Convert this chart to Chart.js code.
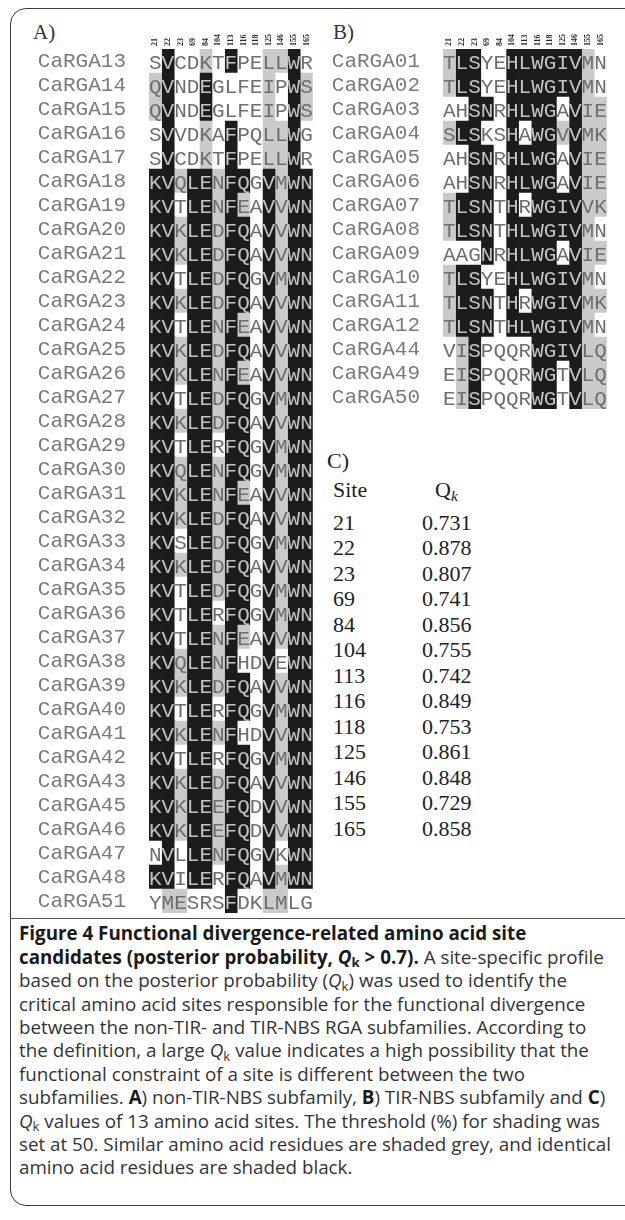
<!DOCTYPE html>
<html>
<head>
<meta charset="utf-8">
<script src="https://cdn.jsdelivr.net/npm/chart.js@4.4.1/dist/chart.umd.min.js"></script>
<style>
  html, body { margin:0; padding:0; background:#fff; }
  body { width:625px; height:1220px; position:relative; overflow:hidden; }
  .abs { position:absolute; white-space:nowrap; }
  .frame { position:absolute; left:10px; top:8px; width:660px; height:1198px; border:1.5px solid #3a3a3a; border-radius:16px; box-sizing:border-box; }
  .sep { position:absolute; left:10px; top:918px; width:640px; height:0; border-top:1.2px solid #555; }
  .plab { font-family:"Liberation Serif","Times New Roman",serif; font-size:21px; line-height:21px; color:#333; }
  .ctab { font-family:"Liberation Serif","Times New Roman",serif; font-size:22px; line-height:22px; color:#222; }
  .cap { font-family:"Open Sans","Noto Sans",sans-serif; font-size:18.8px; line-height:23.4px; color:#333; left:19px; }
  .cap b { color:#1a1a1a; font-weight:700; }
  sub { font-size:0.7em; position:relative; top:0.28em; vertical-align:baseline; line-height:0; }
  canvas { position:absolute; top:0; }
</style>
</head>
<body>
<div class="frame"></div>
<div class="sep"></div>
<div class="abs plab" style="left:33px; top:22px;">A)</div>
<div class="abs plab" style="left:333px; top:22px;">B)</div>
<canvas id="chartA" width="320" height="920" style="left:0px;"></canvas>
<canvas id="chartB" width="325" height="420" style="left:300px;"></canvas>
<div id="panelC"></div>
<div id="caption"></div>
<script>
// ---------- DATA ----------
const sites = ['21','22','23','69','84','104','113','116','118','125','146','155','165'];

const namesA = ['CaRGA13','CaRGA14','CaRGA15','CaRGA16','CaRGA17','CaRGA18','CaRGA19','CaRGA20','CaRGA21',
  'CaRGA22','CaRGA23','CaRGA24','CaRGA25','CaRGA26','CaRGA27','CaRGA28','CaRGA29','CaRGA30','CaRGA31',
  'CaRGA32','CaRGA33','CaRGA34','CaRGA35','CaRGA36','CaRGA37','CaRGA38','CaRGA39','CaRGA40','CaRGA41',
  'CaRGA42','CaRGA43','CaRGA45','CaRGA46','CaRGA47','CaRGA48','CaRGA51'];
const seqA = ['SVCDKTFPELLWR','QVNDEGLFEIPWS','QVNDEGLFEIPWS','SVVDKAFPQLLWG','SVCDKTFPELLWR',
  'KVQLENFQGVMWN','KVTLENFEAVVWN','KVKLEDFQAVVWN','KVKLEDFQAVVWN','KVTLEDFQGVMWN','KVKLEDFQAVVWN',
  'KVTLENFEAVVWN','KVKLEDFQAVVWN','KVKLENFEAVVWN','KVTLEDFQGVMWN','KVKLEDFQAVVWN','KVTLERFQGVMWN',
  'KVQLENFQGVMWN','KVKLENFEAVVWN','KVKLEDFQAVVWN','KVSLEDFQGVMWN','KVKLEDFQAVVWN','KVTLEDFQGVMWN',
  'KVTLERFQGVMWN','KVTLENFEAVVWN','KVQLENFHDVEWN','KVKLEDFQAVVWN','KVTLERFQGVMWN','KVKLENFHDVVWN',
  'KVTLERFQGVMWN','KVKLEDFQAVVWN','KVKLEEFQDVVWN','KVKLEEFQDVVWN','NVLLENFQGVKWN','KVILERFQAVMWN',
  'YMESRSFDKLMLG'];
// b = identical (black), g = similar (grey), w = unshaded
const shadeA = ['wbwwgwbwwggbw','gbwwbwwwwgwbg','gbwwbwwwwgwbg','wbwwgwbwwggbw','wbwwgwbwwggbw',
  'bbgbbgbbwbgbb','bbwbbgbgwbgbb','bbgbbgbbwbgbb','bbgbbgbbwbgbb','bbwbbgbbwbgbb','bbgbbgbbwbgbb',
  'bbwbbgbgwbgbb','bbgbbgbbwbgbb','bbgbbgbgwbgbb','bbwbbgbbwbgbb','bbgbbgbbwbgbb','bbwbbwbbwbgbb',
  'bbgbbgbbwbgbb','bbgbbgbgwbgbb','bbgbbgbbwbgbb','bbwbbgbbwbgbb','bbgbbgbbwbgbb','bbwbbgbbwbgbb',
  'bbwbbwbbwbgbb','bbwbbgbgwbgbb','bbgbbgbwwbwbb','bbgbbgbbwbgbb','bbwbbwbbwbgbb','bbgbbgbwwbgbb',
  'bbwbbwbbwbgbb','bbgbbgbbwbgbb','bbgbbgbbwbgbb','bbgbbgbbwbgbb','wbwbbgbbwbwbb','bbwbbwbbwbgbb',
  'wggwwwbwwggww'];

const namesB = ['CaRGA01','CaRGA02','CaRGA03','CaRGA04','CaRGA05','CaRGA06','CaRGA07','CaRGA08',
  'CaRGA09','CaRGA10','CaRGA11','CaRGA12','CaRGA44','CaRGA49','CaRGA50'];
const seqB = ['TLSYEHLWGIVMN','TLSYEHLWGIVMN','AHSNRHLWGAVIE','SLSKSHAWGVVMK','AHSNRHLWGAVIE',
  'AHSNRHLWGAVIE','TLSNTHRWGIVVK','TLSNTHLWGIVMN','AAGNRHLWGAVIE','TLSYEHLWGIVMN','TLSNTHRWGIVMK',
  'TLSNTHLWGIVMN','VISPQQRWGIVLQ','EISPQQRWGTVLQ','EISPQQRWGTVLQ'];
const shadeB = ['gbbwwbbbbbbgw','gbbwwbbbbbbgw','wwbbwbbbbwbgg','gbbwwbwbbgbgg','wwbbwbbbbwbgg',
  'wwbbwbbbbwbgg','gbbbwbwbbbbgg','gbbbwbbbbbbgw','wwwbwbbbbwbgg','gbbwwbbbbbbgw','gbbbwbwbbbbgg',
  'gbbbwbbbbbbgw','wgbwwwwbbbbgg','wgbwwwwbbwbgg','wgbwwwwbbwbgg'];

const qSites = ['21','22','23','69','84','104','113','116','118','125','146','155','165'];
const qValues = ['0.731','0.878','0.807','0.741','0.856','0.755','0.742','0.849','0.753','0.861','0.848','0.729','0.858'];

// ---------- STYLE ----------
const CELL = { b:'#1c1c1c', g:'#cacaca', w:'#ffffff' };
const MONO = "'Liberation Mono','Courier New',monospace";

function alignPlugin(seqs, shades) {
  return {
    id: 'alignText',
    afterDatasetsDraw(chart) {
      const ctx = chart.ctx;
      ctx.save();
      ctx.font = '21px ' + MONO;
      ctx.textAlign = 'center';
      ctx.textBaseline = 'alphabetic';
      chart.data.datasets.forEach((ds, i) => {
        chart.getDatasetMeta(i).data.forEach((el, j) => {
          const cx = (el.x + el.base) / 2;
          const sh = shades[j][i];
          ctx.fillStyle = sh === 'b' ? '#c2c2c2' : '#6e6e6e';
          ctx.fillText(seqs[j][i], cx, el.y + 7.5);
        });
      });
      // site labels above columns
      const xs = chart.scales.x;
      ctx.font = 'bold 8px "Liberation Serif", serif';
      ctx.fillStyle = '#2a2a2a';
      ctx.textAlign = 'left';
      ctx.textBaseline = 'middle';
      sites.forEach((s, i) => {
        const x = xs.getPixelForValue(i + 0.5);
        ctx.save();
        ctx.translate(x, chart.chartArea.top - 3);
        ctx.rotate(-Math.PI / 2);
        ctx.fillText(s, 0, 0);
        ctx.restore();
      });
      ctx.restore();
    }
  };
}

function makeAlign(id, names, seqs, shades, axisW, pad) {
  const datasets = sites.map((s, i) => ({
    label: s,
    data: names.map(() => 1),
    backgroundColor: shades.map(sh => CELL[sh[i]]),
    borderWidth: 0,
    barPercentage: 1,
    categoryPercentage: 1,
    stack: 'cells'
  }));
  return new Chart(document.getElementById(id), {
    type: 'bar',
    data: { labels: names, datasets },
    options: {
      indexAxis: 'y',
      responsive: false,
      animation: false,
      events: [],
      layout: { padding: pad },
      plugins: { legend: { display: false }, tooltip: { enabled: false } },
      scales: {
        x: { type: 'linear', stacked: true, min: 0, max: sites.length, display: false },
        y: {
          stacked: true,
          grid: { display: false, drawTicks: false },
          border: { display: false },
          ticks: { autoSkip: false, padding: 23, color: '#7a7a7a', font: { family: MONO, size: 21 } },
          afterFit(scale) {
            scale.width = axisW;
            scale.paddingTop = 0;
            scale.paddingBottom = 0;
          }
        }
      }
    },
    plugins: [alignPlugin(seqs, shades)]
  });
}

makeAlign('chartA', namesA, seqA, shadeA, 149, { left: 0, top: 49, right: 7.2, bottom: 7 });
makeAlign('chartB', namesB, seqB, shadeB, 143, { left: 0, top: 49, right: 18.2, bottom: 11 });

// ---------- PANEL C ----------
(function () {
  const c = document.getElementById('panelC');
  let html = '';
  const asc = 18.4;
  html += `<div class="abs ctab" style="left:327px; top:${468 - asc}px;">C)</div>`;
  html += `<div class="abs ctab" style="left:333px; top:${497 - asc}px;">Site</div>`;
  html += `<div class="abs ctab" style="left:435px; top:${497 - asc}px;">Q<sub style="font-style:italic;">k</sub></div>`;
  qSites.forEach((s, k) => {
    const base = 530 + 25.5 * k;
    html += `<div class="abs ctab" style="left:333px; top:${base - asc}px;">${s}</div>`;
    html += `<div class="abs ctab" style="left:422px; top:${base - asc}px;">${qValues[k]}</div>`;
  });
  c.innerHTML = html;
})();

// ---------- CAPTION ----------
(function () {
  const Q = '<i>Q</i><sub>k</sub>';
  const lines = [
    '<b>Figure 4 Functional divergence-related amino acid site</b>',
    '<b>candidates (posterior probability, <i>Q</i><sub>k</sub> &gt; 0.7).</b> A site-specific profile',
    'based on the posterior probability (' + Q + ') was used to identify the',
    'critical amino acid sites responsible for the functional divergence',
    'between the non-TIR- and TIR-NBS RGA subfamilies. According to',
    'the definition, a large ' + Q + ' value indicates a high possibility that the',
    'functional constraint of a site is different between the two',
    'subfamilies. <b>A</b>) non-TIR-NBS subfamily, <b>B</b>) TIR-NBS subfamily and <b>C</b>)',
    Q + ' values of 13 amino acid sites. The threshold (%) for shading was',
    'set at 50. Similar amino acid residues are shaded grey, and identical',
    'amino acid residues are shaded black.'
  ];
  const cap = document.getElementById('caption');
  cap.innerHTML = lines.map((l, k) =>
    `<div class="abs cap" style="top:${922.3 + 23.4 * k}px;">${l}</div>`).join('');
})();
</script>
</body>
</html>
